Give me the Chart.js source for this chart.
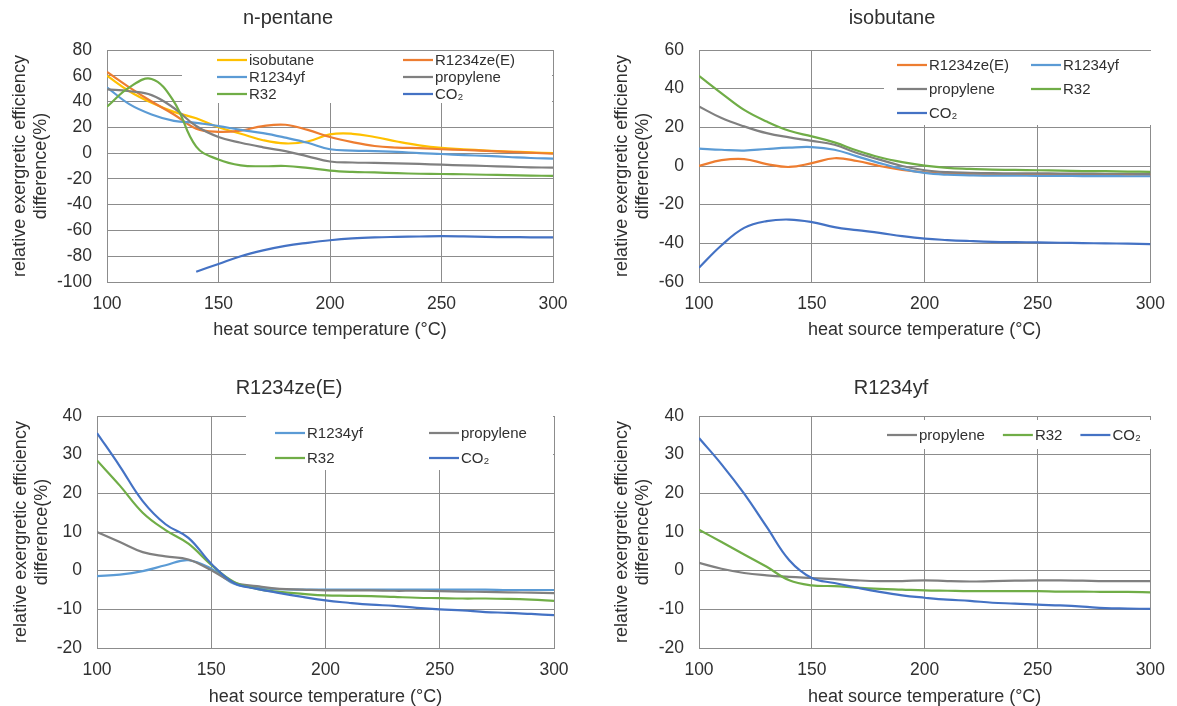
<!DOCTYPE html>
<html>
<head>
<meta charset="utf-8">
<script src="https://cdn.jsdelivr.net/npm/chart.js"></script>
<style>
body { margin: 0; background: #fff; }
#wrap { position: relative; width: 1177px; height: 706px; }
canvas { position: absolute; }
</style>
</head>
<body>
<div id="wrap">
  <canvas id="c1" width="589" height="350" style="left:0;top:0"></canvas>
  <canvas id="c2" width="588" height="350" style="left:589px;top:0"></canvas>
  <canvas id="c3" width="589" height="356" style="left:0;top:350px"></canvas>
  <canvas id="c4" width="588" height="356" style="left:589px;top:350px"></canvas>
</div>
<script>
// heat source temperature (°C)
const temps = [100,110,120,130,140,150,160,170,180,190,200,210,220,230,240,250,260,270,280,290,300];

// n-pentane as reference
const np_iso  = [60,48,39,32,27,20,15,10,7.5,9,14.5,15,12.5,9,6,4,3,2,1.2,0.6,0];
const np_ze   = [63,51,40,30,19,16.5,17.5,21,22,18,12.5,8.5,5.5,4.3,3.8,3,2.4,1.8,1,0.3,-0.5];
const np_yf   = [51,38,30,25,23.5,21,18,15.5,12,8,3,2,1.5,1,0,-0.7,-1.5,-2.2,-3,-3.8,-4.3];
const np_prop = [49.5,48,45,35,21,12.5,8,4.5,1.5,-2.5,-6.5,-7.3,-7.6,-8,-8.4,-9,-9.5,-10,-10.5,-11,-11.3];
const np_r32  = [36,51,57.5,40,5,-5,-9.5,-10.2,-10,-11.5,-13.6,-14.6,-15,-15.6,-16,-16.2,-16.4,-16.8,-17.1,-17.4,-17.7];
const np_co2  = [null,null,null,null,-92,-86,-80,-75.5,-72,-69.6,-67.6,-66.2,-65.4,-65,-64.7,-64.4,-64.6,-65,-65.2,-65.3,-65.4];

// isobutane as reference
const ib_ze   = [0,3,3.6,1,-0.5,1.5,4,2.6,0,-2,-3.3,-4,-4.2,-4.3,-4.3,-4.4,-4.4,-4.5,-4.5,-4.5,-4.5];
const ib_yf   = [9,8.4,8,8.8,9.5,9.8,8.4,5,1.5,-1.5,-3.6,-4.5,-4.8,-5,-5,-5.1,-5.1,-5.2,-5.2,-5.3,-5.3];
const ib_prop = [30.8,24.8,20.5,17,14.8,13,11,6.7,3.3,0,-2.2,-3.2,-3.5,-3.7,-3.8,-3.8,-3.9,-3.9,-4,-4,-4.1];
const ib_r32  = [46.6,37.6,29,23,18.2,15.3,12.2,8,4.5,2,0.2,-1,-1.5,-1.9,-2,-2.2,-2.4,-2.6,-2.7,-2.9,-3];
const ib_co2  = [-52.6,-41,-32,-28.5,-27.7,-29,-31.6,-33.2,-34.6,-36.3,-37.6,-38.3,-38.8,-39.2,-39.4,-39.5,-39.7,-39.9,-40,-40.2,-40.4];

// R1234ze(E) as reference
const ze_yf   = [-1.4,-1,-0.1,1.4,2.7,0.5,-3.4,-4.4,-4.8,-4.9,-4.9,-4.9,-4.9,-4.9,-4.9,-4.9,-4.9,-4.9,-5,-5,-5];
const ze_prop = [10,7.4,4.8,3.7,2.9,0.1,-3.1,-4,-4.7,-4.9,-5.1,-5.1,-5.1,-5.2,-5.2,-5.3,-5.4,-5.5,-5.6,-5.7,-5.8];
const ze_r32  = [28.5,22,15,10.5,7,1.5,-2.9,-4.7,-5.5,-6,-6.4,-6.5,-6.6,-6.8,-7,-7.1,-7.2,-7.2,-7.3,-7.5,-7.8];
const ze_co2  = [35.6,27,18,12,8.5,1.8,-3.2,-4.7,-5.8,-6.8,-7.7,-8.3,-8.8,-9.1,-9.6,-10,-10.3,-10.7,-10.9,-11.2,-11.5];

// R1234yf as reference
const yf_prop = [2,0.5,-0.6,-1.2,-1.6,-1.9,-2.2,-2.5,-2.7,-2.7,-2.5,-2.7,-2.8,-2.7,-2.6,-2.5,-2.5,-2.6,-2.7,-2.7,-2.7];
const yf_r32  = [10.6,7.4,4.2,1,-2.5,-3.8,-4,-4.4,-4.7,-4.9,-5.1,-5.2,-5.3,-5.3,-5.3,-5.3,-5.4,-5.4,-5.5,-5.5,-5.6];
const yf_co2  = [34.3,27.5,19.9,11.3,2.7,-1.9,-3.2,-4.4,-5.5,-6.4,-7,-7.5,-7.8,-8.3,-8.5,-8.8,-9,-9.3,-9.7,-9.8,-9.9];

const C = {iso:'#FFC000', ze:'#ED7D31', yf:'#5B9BD5', prop:'#808080', r32:'#70AD47', co2:'#4472C4'};
const txt = '#303030';
const gridC = '#8c8c8c';
const FONT = "'Liberation Sans', Arial, sans-serif";
Chart.defaults.font.family = FONT;

// legend drawn in a white box inside the plot, like the spreadsheet one
const boxLegend = {
  id: 'boxLegend',
  afterDraw(chart, args, o) {
    if (!o || !o.box) return;
    const ctx = chart.ctx;
    ctx.save();
    ctx.fillStyle = '#fff';
    ctx.fillRect(o.box[0], o.box[1], o.box[2], o.box[3]);
    ctx.font = '15px ' + FONT;
    ctx.textBaseline = 'middle';
    let fx = o.x;
    chart.data.datasets.forEach((ds, i) => {
      let px, py;
      if (o.flow) { px = fx; py = o.y; }
      else { px = o.x + (i % o.cols) * o.colW; py = o.y + Math.floor(i / o.cols) * o.rowH; }
      ctx.strokeStyle = ds.borderColor;
      ctx.lineWidth = 2.25;
      ctx.beginPath(); ctx.moveTo(px, py); ctx.lineTo(px + 30, py); ctx.stroke();
      ctx.fillStyle = txt;
      ctx.fillText(ds.label, px + 32, py + 1);
      if (o.flow) fx = px + 32 + ctx.measureText(ds.label).width + o.gap;
    });
    ctx.restore();
  }
};

function makeChart(id, title, series, yr, lay) {
  return new Chart(document.getElementById(id), {
    type: 'line',
    data: {
      datasets: series.map((s, i) => ({
        label: s[0],
        data: temps.map((t, k) => ({x: t, y: s[1][k]})),
        borderColor: s[2], backgroundColor: s[2],
        borderWidth: 2.2, pointRadius: 0, tension: 0.4, fill: false,
        spanGaps: false, order: -i
      }))
    },
    options: {
      responsive: false,
      animation: false,
      layout: {padding: {left: lay.L, right: lay.R, top: 0, bottom: 0}},
      plugins: {
        legend: {display: false},
        tooltip: {enabled: false},
        title: {display: true, text: title, color: txt, font: {size: 20, weight: 'normal'},
                padding: {top: lay.tt, bottom: lay.tb}},
        boxLegend: lay.legend
      },
      scales: {
        x: {
          type: 'linear', min: 100, max: 300,
          afterFit(s) { s.height = lay.xh; },
          ticks: {stepSize: 50, color: txt, font: {size: 17.5}, padding: 12, maxRotation: 0},
          grid: {color: gridC, lineWidth: 1, drawTicks: false},
          border: {color: gridC},
          title: {display: true, text: 'heat source temperature (°C)', color: txt,
                  font: {size: 18}, padding: {top: 0, bottom: lay.xpb}}
        },
        y: {
          min: yr[0], max: yr[1],
          afterFit(s) { s.width = lay.yw; },
          ticks: {stepSize: yr[2], color: txt, font: {size: 17.5}, padding: 15, autoSkip: false},
          grid: {color: gridC, lineWidth: 1, drawTicks: false},
          border: {color: gridC},
          title: {display: true, text: ['relative exergretic efficiency', 'difference(%)'], color: txt,
                  font: {size: 18}, padding: {top: lay.ypt, bottom: 0}}
        }
      }
    },
    plugins: [boxLegend]
  });
}

makeChart('c1', 'n-pentane', [
  ['isobutane', np_iso, C.iso],
  ['R1234ze(E)', np_ze, C.ze],
  ['R1234yf', np_yf, C.yf],
  ['propylene', np_prop, C.prop],
  ['R32', np_r32, C.r32],
  ['CO₂', np_co2, C.co2]
], [-100, 80, 20], {L: 23, R: 36, yw: 84, tt: 6, tb: 20, xh: 68, xpb: 9, ypt: -14,
  legend: {box: [182, 51, 370, 52], x: 217, y: 60, cols: 2, colW: 186, rowH: 17}});

makeChart('c2', 'isobutane', [
  ['R1234ze(E)', ib_ze, C.ze],
  ['R1234yf', ib_yf, C.yf],
  ['propylene', ib_prop, C.prop],
  ['R32', ib_r32, C.r32],
  ['CO₂', ib_co2, C.co2]
], [-60, 60, 20], {L: 40, R: 22, yw: 70, tt: 6, tb: 20, xh: 68, xpb: 9, ypt: -18,
  legend: {box: [295, 51, 270, 74], x: 308, y: 65, cols: 2, colW: 134, rowH: 24}});

makeChart('c3', 'R1234ze(E)', [
  ['R1234yf', ze_yf, C.yf],
  ['propylene', ze_prop, C.prop],
  ['R32', ze_r32, C.r32],
  ['CO₂', ze_co2, C.co2]
], [-20, 40, 10], {L: 24, R: 35, yw: 73, tt: 26, tb: 16, xh: 58, xpb: -2, ypt: -14,
  legend: {box: [246, 66, 307, 54], x: 275, y: 83, cols: 2, colW: 154, rowH: 25}});

makeChart('c4', 'R1234yf', [
  ['propylene', yf_prop, C.prop],
  ['R32', yf_r32, C.r32],
  ['CO₂', yf_co2, C.co2]
], [-20, 40, 10], {L: 38, R: 22, yw: 72, tt: 26, tb: 16, xh: 58, xpb: -2, ypt: -16,
  legend: {box: [293, 70, 272, 29], x: 298, y: 85, flow: true, gap: 18}});
</script>
</body>
</html>
